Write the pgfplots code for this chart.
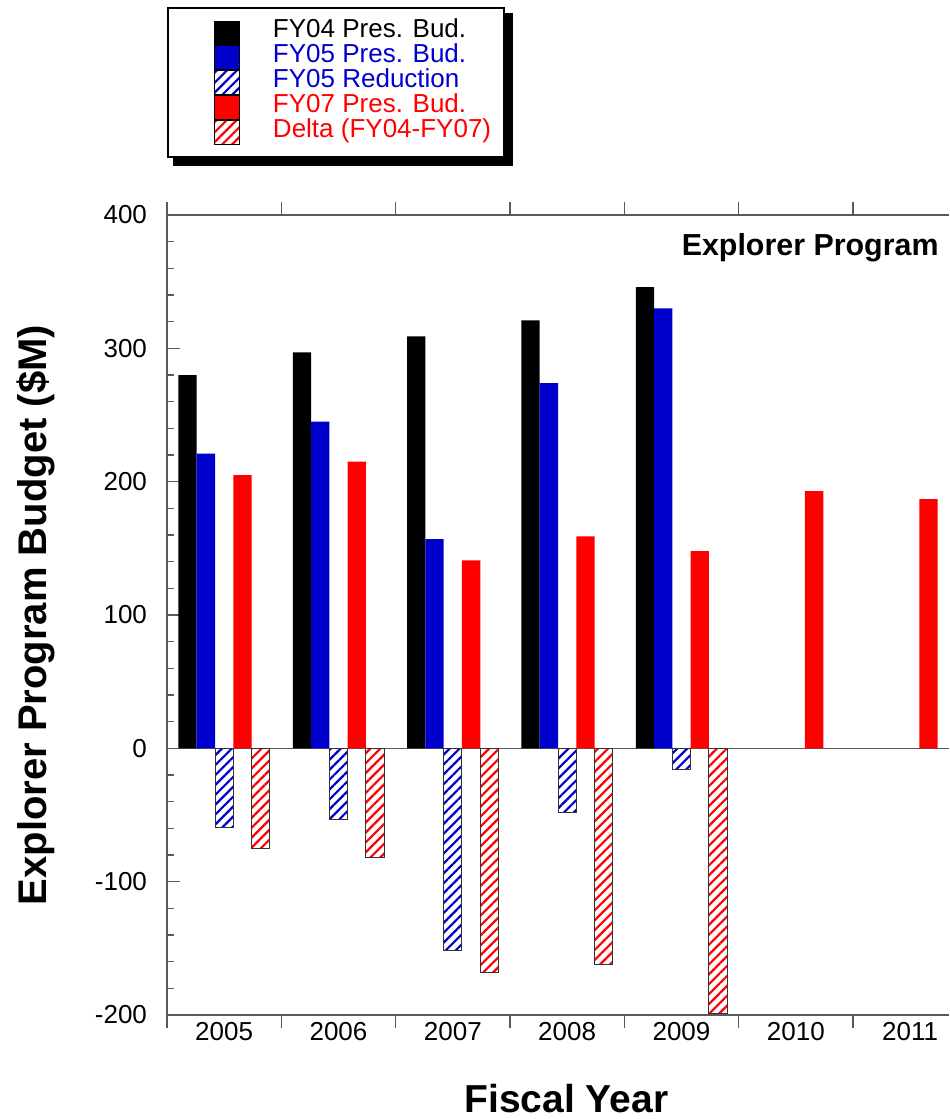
\documentclass[border=0pt]{standalone}
\usepackage{fontspec}
\setmainfont{Liberation Sans}
\usepackage{pgfplots}
\pgfplotsset{compat=1.18}
\usetikzlibrary{patterns.meta,backgrounds}
\definecolor{myblue}{RGB}{0,0,205}
\definecolor{myred}{RGB}{255,0,0}
\definecolor{axgray}{RGB}{90,90,90}
\pgfplotsset{mylegend/.style={legend image code/.code={\path (-16.5pt,0pt) (29pt,0pt); \draw[##1, draw=black, line width=0.4pt] (0pt,-6pt) rectangle (12.5pt,6pt);}}}
\begin{document}
\begin{tikzpicture}
\begin{axis}[
  scale only axis, width=391pt, height=400pt,
  xmin=-0.5, xmax=6.3397, ymin=-200, ymax=400,
  axis x line=box, axis y line=left,
  axis line style={-, draw=axgray, line width=0.75pt},
  tick align=outside,
  tick style={draw=axgray, line width=0.75pt},
  major tick length=6.5pt, minor tick length=3.5pt,
  major y tick style={xshift=6.5pt},
  minor y tick style={xshift=3.5pt},
  ytick={-200,-100,...,400}, minor y tick num=4,
  xtick={-0.5,0.5,...,5.5}, xticklabels={},
  extra x ticks={0,1,2,3,4,5,6},
  extra x tick labels={2005,2006,2007,2008,2009,2010,2011},
  extra x tick style={major tick length=0pt},
  tick label style={font=\fontsize{13}{15}\selectfont},
  /pgf/number format/assume math mode=true,
  xlabel={Fiscal Year}, ylabel={Explorer Program Budget (\$M)},
  xlabel style={font=\bfseries\fontsize{19.5}{22}\selectfont, at={(rel axis cs:0.5109,-0.1225)}, anchor=base, text depth=0pt},
  ylabel style={font=\bfseries\fontsize{20}{22}\selectfont, at={(rel axis cs:-0.1535,0.5)}, anchor=base},
  legend style={name=leg, at={(rel axis cs:0,1)}, anchor=north west, yshift=104pt,
    draw=black, line width=1pt, fill=white,
    inner xsep=6.5pt, inner ysep=6.25pt, row sep=0pt,
    font=\fontsize{13}{15}\selectfont, nodes={inner sep=0pt, text height=8.5pt, text depth=3.5pt}},
  legend cell align=left,
]
\draw[axgray, line width=0.75pt] (axis cs:-0.5,0) -- (axis cs:6.3397,0);
\addplot[ybar, bar width=0.16, bar shift=-0.32, fill=black, draw=none, mylegend]
  coordinates {(0,280) (1,297) (2,309) (3,321) (4,346)};
\addlegendentry{FY04 Pres. Bud.}
\addplot[ybar, bar width=0.16, bar shift=-0.16, fill=myblue, draw=none, mylegend]
  coordinates {(0,221) (1,245) (2,157) (3,274) (4,330)};
\addlegendentry{\textcolor{myblue}{FY05 Pres. Bud.}}
\addplot[ybar, bar width=0.16, bar shift=0, draw=black!80, line width=0.5pt,
  pattern={Lines[angle=45,distance=3.5pt,line width=1.1pt]}, pattern color=myblue, mylegend]
  coordinates {(0,-59) (1,-53) (2,-152) (3,-48) (4,-16)};
\addlegendentry{\textcolor{myblue}{FY05 Reduction}}
\addplot[ybar, bar width=0.16, bar shift=0.16, fill=myred, draw=none, mylegend]
  coordinates {(0,205) (1,215) (2,141) (3,159) (4,148) (5,193) (6,187)};
\addlegendentry{\textcolor{myred}{FY07 Pres. Bud.}}
\addplot[ybar, bar width=0.16, bar shift=0.32, draw=black!80, line width=0.5pt,
  pattern={Lines[angle=45,distance=3.5pt,line width=1.1pt]}, pattern color=myred, mylegend]
  coordinates {(0,-75) (1,-82) (2,-168) (3,-162) (4,-199)};
\addlegendentry{\textcolor{myred}{Delta (FY04-FY07)}}
\node[anchor=base east, inner sep=0pt, font=\bfseries\fontsize{15.2}{17}\selectfont] at (rel axis cs:0.9872,0.95) {Explorer Program};
\end{axis}
\begin{pgfonlayer}{background}
\filldraw[black, line width=1pt] ([xshift=3.5pt,yshift=-3.5pt]leg.south west) rectangle ([xshift=3.5pt,yshift=-3.5pt]leg.north east);
\end{pgfonlayer}
\pgfresetboundingbox
\useasboundingbox (-83.5pt,-52pt) rectangle (391pt,507.5pt);
\end{tikzpicture}
\end{document}
